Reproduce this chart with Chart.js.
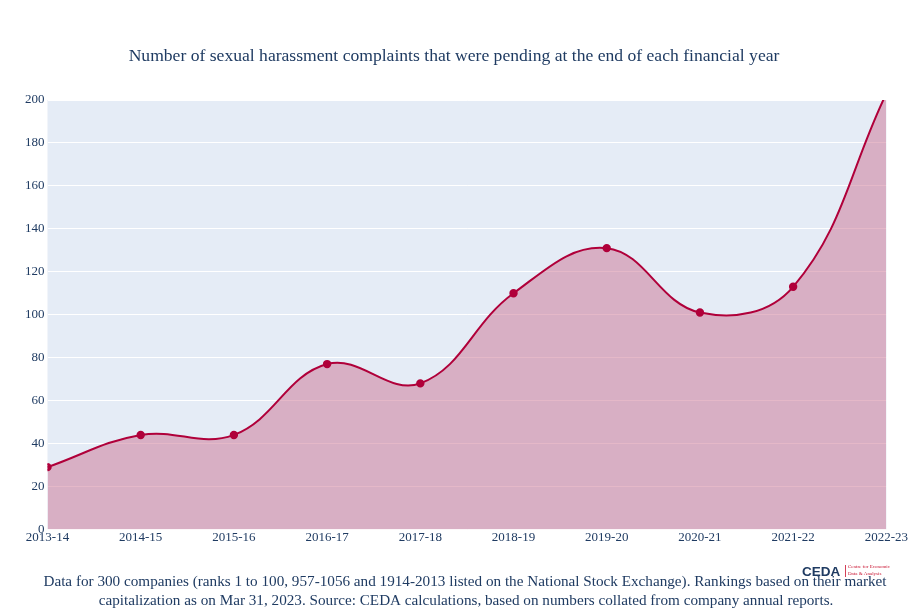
<!DOCTYPE html>
<html>
<head>
<meta charset="utf-8">
<script src="https://cdn.jsdelivr.net/npm/chart.js@4.4.0/dist/chart.umd.min.js"></script>
<style>
    html, body { margin: 0; padding: 0; background: #fff; }
    .wrap { width: 908px; height: 608px; position: relative; }
</style>
</head>
<body>
<div class="wrap"><canvas class="pending-chart"></canvas></div>
<script>
const years = ['2013-14', '2014-15', '2015-16', '2016-17', '2017-18', '2018-19', '2019-20', '2020-21', '2021-22', '2022-23'];
const pending = [29, 44, 44, 77, 68, 110, 131, 101, 113, 203];
const yTicks = [0, 20, 40, 60, 80, 100, 120, 140, 160, 180, 200];

const titleText = 'Number of sexual harassment complaints that were pending at the end of each financial year';
const captionLines = [
    'Data for 300 companies (ranks 1 to 100, 957-1056 and 1914-2013 listed on the National Stock Exchange). Rankings based on their market',
    'capitalization as on Mar 31, 2023. Source: CEDA calculations, based on numbers collated from company annual reports.'
];

const textColor = '#1f3b62';
const serif = "'Liberation Serif', 'DejaVu Serif', serif";

// plot background + title, caption and logo
const decor = {
    id: 'decor',
    beforeDraw(chart) {
        const { ctx, chartArea: a } = chart;
        ctx.save();
        ctx.fillStyle = '#e5ecf6';
        ctx.fillRect(a.left, a.top, a.right - a.left, a.bottom - a.top);
        ctx.restore();
    },
    afterDraw(chart) {
        const { ctx } = chart;
        ctx.save();
        ctx.fillStyle = textColor;
        ctx.textAlign = 'center';
        ctx.textBaseline = 'middle';
        ctx.font = '17.6px ' + serif;
        ctx.fillText(titleText, 454, 56);
        ctx.font = '15.2px ' + serif;
        ctx.fillText(captionLines[0], 465, 582);
        ctx.fillText(captionLines[1], 466, 601);

        // logo
        ctx.textAlign = 'left';
        ctx.font = 'bold 13.5px "Liberation Sans", sans-serif';
        ctx.fillStyle = '#1f3b62';
        ctx.fillText('CEDA', 802, 572);
        ctx.fillStyle = '#c8102e';
        ctx.fillRect(845, 565, 0.8, 12);
        ctx.font = '5px "Liberation Serif", serif';
        ctx.fillText('Centre for Economic', 848, 567);
        ctx.fillText('Data & Analysis', 848, 574);
        ctx.restore();
    }
};

new Chart(document.querySelector('.pending-chart'), {
    type: 'line',
    data: {
        labels: years,
        datasets: [{
            label: 'Pending complaints',
            data: pending,
            borderColor: '#b0003a',
            borderWidth: 2,
            backgroundColor: 'rgba(203, 114, 146, 0.5)',
            fill: 'origin',
            tension: 0.4,
            pointRadius: 3.2,
            pointBackgroundColor: '#b0003a',
            pointBorderColor: '#b0003a',
            clip: 0
        }]
    },
    options: {
        responsive: true,
        maintainAspectRatio: false,
        animation: false,
        layout: {
            padding: { top: 100, left: 22, right: 0, bottom: 63 }
        },
        scales: {
            x: {
                grid: { display: false, drawTicks: false },
                border: { display: false },
                ticks: {
                    color: textColor,
                    font: { family: serif, size: 13 },
                    maxRotation: 0,
                    padding: 0
                }
            },
            y: {
                min: 0,
                max: 200,
                afterBuildTicks: (axis) => { axis.ticks = yTicks.map(v => ({ value: v })); },
                grid: { color: '#ffffff', lineWidth: 1, drawTicks: false },
                border: { display: false },
                ticks: {
                    color: textColor,
                    font: { family: serif, size: 13 },
                    padding: 3
                }
            }
        },
        plugins: {
            legend: { display: false },
            tooltip: { enabled: false }
        }
    },
    plugins: [decor]
});
</script>
</body>
</html>
